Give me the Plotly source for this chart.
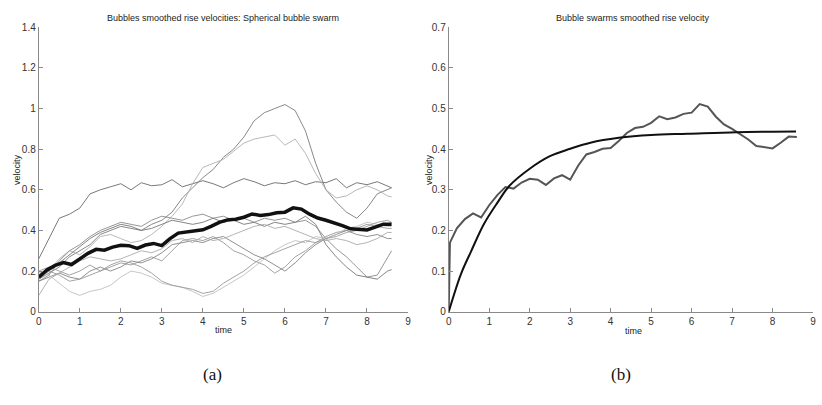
import plotly.graph_objects as go

# ---------------- data ----------------
t_thin = [0, 0.25, 0.5, 0.75, 1.0, 1.25, 1.5, 1.75, 2.0, 2.25, 2.5, 2.75, 3.0, 3.25, 3.5, 3.75,
          4.0, 4.25, 4.5, 4.75, 5.0, 5.25, 5.5, 5.75, 6.0, 6.25, 6.5, 6.75, 7.0, 7.25, 7.5, 7.75,
          8.0, 8.25, 8.5, 8.6]

bubble_a = [0.26, 0.36, 0.46, 0.48, 0.51, 0.58, 0.6, 0.615, 0.63, 0.6, 0.635, 0.62, 0.625, 0.65, 0.615, 0.63,
            0.645, 0.63, 0.61, 0.635, 0.655, 0.64, 0.62, 0.635, 0.63, 0.645, 0.625, 0.64, 0.635, 0.655, 0.61, 0.635,
            0.625, 0.64, 0.62, 0.61]
bubble_b = [0.16, 0.19, 0.22, 0.27, 0.3, 0.33, 0.38, 0.4, 0.42, 0.41, 0.4, 0.43, 0.45, 0.49, 0.56, 0.61,
            0.66, 0.7, 0.76, 0.8, 0.86, 0.94, 0.98, 1.0, 1.02, 0.99, 0.89, 0.73, 0.6, 0.54, 0.49, 0.46,
            0.51, 0.58, 0.6, 0.61]
bubble_c = [0.19, 0.2, 0.26, 0.3, 0.28, 0.32, 0.37, 0.38, 0.36, 0.34, 0.35, 0.38, 0.42, 0.47, 0.53, 0.63,
            0.71, 0.73, 0.75, 0.79, 0.83, 0.85, 0.86, 0.87, 0.82, 0.85, 0.78, 0.68, 0.6, 0.56, 0.57, 0.6,
            0.62, 0.6, 0.57, 0.565]
bubble_d = [0.15, 0.18, 0.25, 0.3, 0.33, 0.37, 0.4, 0.42, 0.44, 0.43, 0.42, 0.45, 0.47, 0.46, 0.45, 0.47,
            0.48, 0.46, 0.47, 0.45, 0.46, 0.44, 0.46, 0.45, 0.46, 0.44, 0.45, 0.42, 0.36, 0.31, 0.27, 0.22,
            0.17, 0.18, 0.27, 0.3]
bubble_e = [0.17, 0.2, 0.24, 0.28, 0.32, 0.36, 0.39, 0.41, 0.43, 0.42, 0.4, 0.41, 0.43, 0.45, 0.44, 0.43,
            0.44, 0.46, 0.44, 0.45, 0.43, 0.44, 0.42, 0.44, 0.43, 0.44, 0.47, 0.43, 0.33, 0.27, 0.22, 0.18,
            0.17, 0.16, 0.2, 0.207]
bubble_f = [0.2, 0.22, 0.2, 0.18, 0.2, 0.23, 0.2, 0.22, 0.24, 0.23, 0.25, 0.27, 0.25, 0.3, 0.35, 0.36,
            0.35, 0.37, 0.34, 0.3, 0.28, 0.25, 0.23, 0.19, 0.22, 0.27, 0.3, 0.34, 0.37, 0.39, 0.4, 0.41,
            0.43, 0.42, 0.41, 0.41]
bubble_g = [0.15, 0.17, 0.19, 0.17, 0.16, 0.2, 0.22, 0.2, 0.22, 0.25, 0.24, 0.26, 0.29, 0.33, 0.34, 0.35,
            0.34, 0.36, 0.37, 0.34, 0.31, 0.28, 0.26, 0.23, 0.2, 0.24, 0.29, 0.33, 0.36, 0.38, 0.4, 0.38,
            0.37, 0.38, 0.36, 0.36]
bubble_h = [0.2, 0.18, 0.14, 0.1, 0.08, 0.1, 0.11, 0.13, 0.17, 0.2, 0.19, 0.17, 0.14, 0.13, 0.12, 0.1,
            0.075, 0.09, 0.12, 0.15, 0.18, 0.22, 0.26, 0.3, 0.33, 0.35, 0.34, 0.37, 0.36, 0.38, 0.41, 0.42,
            0.44, 0.43, 0.42, 0.42]
bubble_i = [0.16, 0.2, 0.18, 0.15, 0.16, 0.18, 0.2, 0.23, 0.25, 0.24, 0.22, 0.19, 0.15, 0.13, 0.12, 0.11,
            0.09, 0.1, 0.14, 0.17, 0.2, 0.24, 0.27, 0.29, 0.31, 0.33, 0.35, 0.34, 0.36, 0.37, 0.39, 0.4,
            0.42, 0.44, 0.45, 0.44]
bubble_j = [0.08, 0.16, 0.19, 0.22, 0.25, 0.27, 0.26, 0.25, 0.26, 0.28, 0.3, 0.29, 0.31, 0.35, 0.36, 0.34,
            0.37, 0.35, 0.36, 0.38, 0.4, 0.42, 0.43, 0.41, 0.42, 0.4, 0.38, 0.36, 0.35, 0.36, 0.35, 0.33,
            0.34, 0.36, 0.39, 0.39]

thin_series = [bubble_a, bubble_b, bubble_c, bubble_d, bubble_e,
               bubble_f, bubble_g, bubble_h, bubble_i, bubble_j]
thin_colors = ["#6a6a6a", "#7a7a7a", "#b0b0b0", "#8a8a8a", "#777777",
               "#999999", "#858585", "#c0c0c0", "#9a9a9a", "#aaaaaa"]

mean_t = [0.0, 0.2, 0.4, 0.6, 0.8, 1.0, 1.2, 1.4, 1.6, 1.8, 2.0, 2.2, 2.4, 2.6, 2.8, 3.0, 3.2, 3.4,
          3.6, 3.8, 4.0, 4.2, 4.4, 4.6, 4.8, 5.0, 5.2, 5.4, 5.6, 5.8, 6.0, 6.2, 6.4, 6.6, 6.8, 7.0,
          7.2, 7.4, 7.6, 7.8, 8.0, 8.2, 8.4, 8.6]
mean_v = [0.17, 0.205, 0.228, 0.242, 0.232, 0.262, 0.287, 0.307, 0.303, 0.318, 0.327, 0.325, 0.312,
          0.328, 0.336, 0.325, 0.36, 0.387, 0.393, 0.401, 0.403, 0.42, 0.44, 0.452, 0.455, 0.465, 0.481,
          0.474, 0.478, 0.487, 0.49, 0.511, 0.505, 0.48, 0.461, 0.45, 0.438, 0.424, 0.408, 0.405, 0.402,
          0.416, 0.431, 0.43]

swarm_t = [0.0, 0.03] + mean_t[1:]
swarm_v = [0.0] + mean_v

fit_t = [0, 0.3, 0.55, 0.87, 1.2, 1.5, 2.0, 2.5, 3.0, 3.5, 4.2, 5.0, 5.9, 7.1, 8.0, 8.58]
fit_v = [0, 0.092, 0.148, 0.216, 0.268, 0.31, 0.352, 0.383, 0.401, 0.416, 0.428, 0.435, 0.438,
         0.442, 0.443, 0.4435]

x_ticks = [0, 1, 2, 3, 4, 5, 6, 7, 8, 9]
left_y_ticks = [0, 0.2, 0.4, 0.6, 0.8, 1.0, 1.2, 1.4]
left_y_labels = ["0", "0.2", "0.4", "0.6", "0.8", "1", "1.2", "1.4"]
right_y_ticks = [0, 0.1, 0.2, 0.3, 0.4, 0.5, 0.6, 0.7]
right_y_labels = ["0", "0.1", "0.2", "0.3", "0.4", "0.5", "0.6", "0.7"]

title_a = "Bubbles smoothed rise velocities: Spherical bubble swarm"
title_b = "Bubble swarms smoothed rise velocity"

# ---------------- figure ----------------
W, H = 822, 405
fig = go.Figure()

for vals, col in zip(thin_series, thin_colors):
    fig.add_trace(go.Scatter(x=t_thin, y=vals, mode="lines",
                             line=dict(color=col, width=0.9), xaxis="x", yaxis="y",
                             showlegend=False, hoverinfo="skip"))
fig.add_trace(go.Scatter(x=mean_t, y=mean_v, mode="lines", line=dict(color="#111111", width=3.5),
                         xaxis="x", yaxis="y", showlegend=False))

fig.add_trace(go.Scatter(x=swarm_t, y=swarm_v, mode="lines", line=dict(color="#555555", width=2),
                         xaxis="x2", yaxis="y2", showlegend=False))
fig.add_trace(go.Scatter(x=fit_t, y=fit_v, mode="lines", line=dict(color="#111111", width=2, shape="spline"),
                         xaxis="x2", yaxis="y2", showlegend=False))

def px_x(p):
    return p / W

def px_y(p):
    return 1 - p / H

RIGHT_END = 816

tickfont = dict(family="Liberation Sans, Arial, sans-serif", size=10, color="#333333")
axis_common = dict(showgrid=False, zeroline=False, showline=True, linecolor="#8a8a8a", linewidth=1,
                   ticks="inside", ticklen=4, tickcolor="#8a8a8a", tickfont=tickfont, mirror=False)

fig.update_layout(
    width=W, height=H,
    margin=dict(l=0, r=0, t=0, b=0),
    paper_bgcolor="white", plot_bgcolor="white",
    xaxis=dict(domain=[px_x(36), px_x(408)], range=[0, 9], tickvals=x_ticks, anchor="y", **axis_common),
    yaxis=dict(domain=[px_y(315), px_y(22)], range=[0, 1.4], tickvals=left_y_ticks,
               ticktext=left_y_labels, anchor="x", **axis_common),
    xaxis2=dict(domain=[px_x(449), px_x(RIGHT_END)], range=[0, 9], tickvals=x_ticks, anchor="y2",
                **axis_common),
    yaxis2=dict(domain=[px_y(315), px_y(22)], range=[0, 0.7], tickvals=right_y_ticks,
                ticktext=right_y_labels, anchor="x2", **axis_common),
)

small = dict(family="Liberation Sans, Arial, sans-serif", size=9, color="#222222")
serif = dict(family="Liberation Serif, Times New Roman, serif", size=17, color="#111111")
ann = [
    dict(text=title_a, x=px_x(222), y=px_y(12), font=small),
    dict(text=title_b, x=px_x(635), y=px_y(12), font=small),
    dict(text="time", x=px_x(222), y=px_y(334), font=small),
    dict(text="time", x=px_x(635), y=px_y(335), font=small),
    dict(text="velocity", x=px_x(14), y=px_y(168), font=small, textangle=-90),
    dict(text="velocity", x=px_x(429), y=px_y(168), font=small, textangle=-90),
    dict(text="(a)", x=px_x(211), y=px_y(380), font=serif),
    dict(text="(b)", x=px_x(623), y=px_y(380), font=serif),
]
for a in ann:
    fig.add_annotation(xref="paper", yref="paper", showarrow=False, xanchor="center", yanchor="middle", **a)

# remove the browser's default 8px body margin so the figure sits at the page origin; hide the modebar
fig.write_html("out.html", config={"displayModeBar": False},
               post_script="document.body.style.margin='0';document.body.style.overflow='hidden';")
